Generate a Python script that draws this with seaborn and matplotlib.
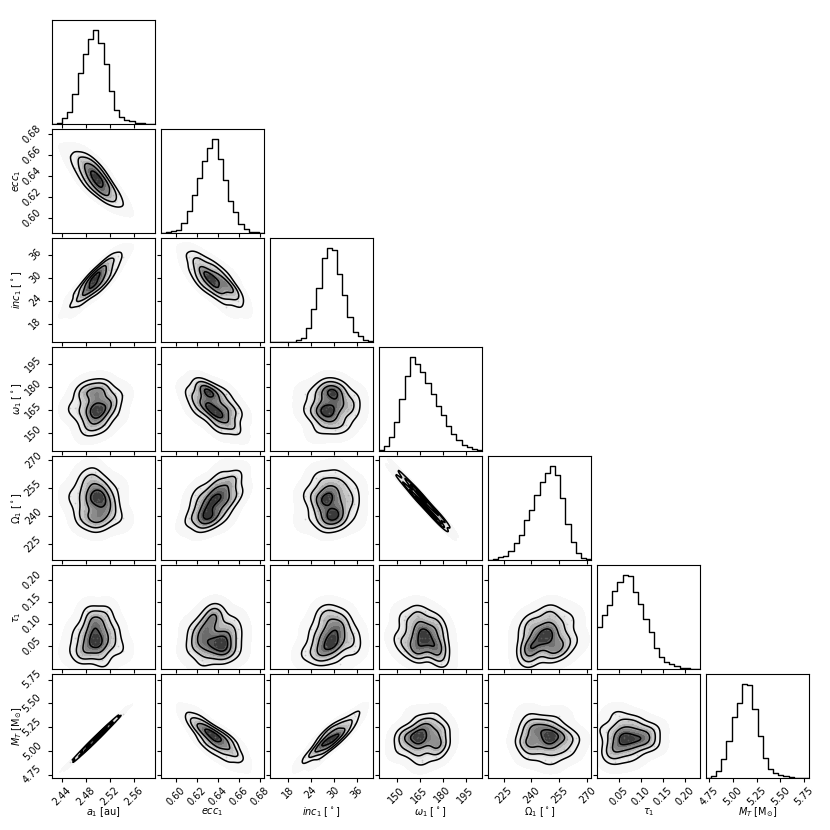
import matplotlib
matplotlib.use("Agg")
import matplotlib.pyplot as plt
from matplotlib.colors import LinearSegmentedColormap
import numpy as np
import pandas as pd
import seaborn as sns

# Representative posterior samples
a1 = [2.453,2.461,2.466,2.469,2.472,2.474,2.476,2.478,2.479,2.481,2.482,2.484,2.485,2.486,2.487,2.488,2.489,2.490,2.491,2.492,2.494,2.495,2.495,2.496,2.498,2.499,2.499,2.500,2.502,2.503,2.504,2.505,2.506,2.507,2.508,2.509,2.510,2.512,2.513,2.515,2.516,2.518,2.520,2.522,2.525,2.528,2.533,2.541]
ecc1 = [.659,.648,.659,.648,.654,.636,.648,.658,.638,.649,.640,.652,.628,.643,.649,.637,.656,.631,.643,.638,.650,.626,.643,.635,.637,.647,.630,.642,.626,.637,.632,.647,.625,.637,.619,.633,.626,.639,.626,.635,.618,.629,.620,.629,.622,.615,.623,.613]
inc1 = [22.6,26.1,24.0,22.5,26.9,25.8,25.9,25.4,28.8,28.2,26.7,27.0,29.7,25.5,28.4,28.9,27.1,31.0,29.2,28.0,31.1,27.7,30.4,27.5,30.9,28.0,31.2,26.3,31.2,30.6,29.7,29.8,28.3,33.2,30.6,33.4,29.1,32.4,31.7,28.8,33.8,32.0,35.3,30.8,34.6,32.4,35.7,35.4]
omega1 = [166.2,166.3,163.3,175.6,159.9,176.4,175.3,150.9,176.6,154.6,168.5,165.0,180.3,162.7,166.9,163.2,154.8,176.2,158.9,176.1,156.4,180.0,152.2,173.8,164.0,165.5,171.1,163.4,167.8,175.8,164.2,159.2,180.9,155.2,178.3,164.5,176.4,155.5,178.7,162.9,165.5,169.9,170.0,170.3,168.4,176.2,162.0,174.6]
Omega1 = [250.7,247.1,252.3,238.3,255.9,238.5,243.0,260.5,241.4,257.7,247.7,247.8,237.5,250.9,250.6,249.4,261.0,238.2,256.3,237.8,259.0,235.3,263.8,239.9,252.7,247.9,245.3,249.2,248.8,239.1,253.0,253.0,237.5,257.1,238.8,248.3,241.0,257.4,240.0,249.7,251.4,243.9,246.3,243.0,248.2,238.7,255.0,239.2]
tau1 = [.04,.07,.09,.03,.04,.03,.05,.07,.08,.04,.13,.07,.05,.03,.09,.12,.11,.10,.07,.05,.10,.08,.06,.11,.12,.05,.07,.03,.09,.06,.04,.08,.02,.06,.05,.10,.11,.12,.01,.13,.06,.09,.08,.05,.07,.09,.05,.04]
MT = [4.88,4.90,4.955,4.94,4.98,4.975,5.02,5.00,5.04,5.02,5.055,5.03,5.06,5.045,5.09,5.07,5.10,5.08,5.115,5.08,5.12,5.095,5.14,5.12,5.15,5.13,5.165,5.13,5.17,5.145,5.19,5.17,5.20,5.18,5.215,5.19,5.22,5.205,5.25,5.23,5.27,5.25,5.285,5.27,5.31,5.305,5.37,5.39]

# Marginal histogram heights, 20 bins per parameter
hist_a1 = [1,4,17,37,90,152,212,255,284,244,180,98,42,22,12,8,4,2,1,1]
hist_ecc1 = [1,2,5,9,31,66,113,166,218,257,284,222,159,97,64,27,11,4,2,1]
hist_inc1 = [0,0,0,1,1,6,11,41,99,164,254,284,277,206,141,76,29,19,7,2]
hist_omega1 = [3,16,41,88,155,225,284,263,239,205,171,136,107,74,51,34,17,11,6,3]
hist_Omega1 = [1,4,8,12,28,52,75,121,150,196,233,261,283,255,187,109,55,20,6,2]
hist_tau1 = [125,163,191,234,261,283,279,232,196,151,110,64,36,20,14,10,4,2,1,1]
hist_MT = [0,6,20,57,109,181,223,282,278,206,124,61,27,16,10,6,3,1,0,0]

names = ["a1", "ecc1", "inc1", "omega1", "Omega1", "tau1", "MT"]
labels = [r"$a_{1}$ [au]", r"$ecc_{1}$", r"$inc_{1}$ [$^\circ$]", r"$\omega_{1}$ [$^\circ$]",
          r"$\Omega_{1}$ [$^\circ$]", r"$\tau_{1}$", r"$M_{T}$ [M$_{\odot}$]"]
limits = [(2.4228, 2.5956), (.5857, .6844), (13.3, 40.35), (138.3, 205.8),
          (216.5, 272.1), (-.001, .234), (4.715, 5.806)]
ticks = [[2.44, 2.48, 2.52, 2.56], [.60, .62, .64, .66, .68], [18, 24, 30, 36],
         [150, 165, 180, 195], [225, 240, 255, 270], [.05, .10, .15, .20],
         [4.75, 5.00, 5.25, 5.50, 5.75]]
ticktext = [["2.44", "2.48", "2.52", "2.56"], ["0.60", "0.62", "0.64", "0.66", "0.68"],
            ["18", "24", "30", "36"], ["150", "165", "180", "195"],
            ["225", "240", "255", "270"], ["0.05", "0.10", "0.15", "0.20"],
            ["4.75", "5.00", "5.25", "5.50", "5.75"]]
hists = [hist_a1, hist_ecc1, hist_inc1, hist_omega1, hist_Omega1, hist_tau1, hist_MT]

samples = pd.DataFrame(dict(a1=a1, ecc1=ecc1, inc1=inc1, omega1=omega1, Omega1=Omega1, tau1=tau1, MT=MT))

shade = LinearSegmentedColormap.from_list(
    "shade", [(0, "#fcfcfc"), (.3, "#ececec"), (.55, "#c4c4c4"), (.8, "#828282"), (1, "#303030")])
fill_levels = [.012, .135, .2, .27, .325, .4, .5, .607, .7, .8, .882, .95, 1.0]
line_levels = [.135, .325, .607, .882]

S = 830.0
fig = plt.figure(figsize=(8.3, 8.3), dpi=100)
x0, y0, step, w = 51.7, 20.3, 109.0, 103.6
FS = 7

for r in range(7):
    for c in range(r + 1):
        ax = fig.add_axes([(x0 + c * step) / S, 1 - (y0 + r * step + w) / S, w / S, w / S])
        if r == c:
            sns.histplot(x=np.linspace(limits[c][0], limits[c][1], 41)[1::2], weights=hists[c],
                         bins=20, binrange=limits[c], element="step",
                         fill=False, color="k", linewidth=1.0, ax=ax)
            ax.set_ylim(0, 1.1 * max(hists[c]))
            ax.set_yticks([])
        else:
            xn, yn = names[c], names[r]
            sns.kdeplot(data=samples, x=xn, y=yn, fill=True, levels=fill_levels, cmap=shade,
                        bw_adjust=1.05, gridsize=120, ax=ax)
            sns.kdeplot(data=samples, x=xn, y=yn, levels=line_levels, color="k", linewidths=1.1,
                        bw_adjust=1.05, gridsize=120, ax=ax)
            sns.scatterplot(data=samples, x=xn, y=yn, s=1.5, color="#888888", alpha=.35,
                            linewidth=0, ax=ax)
            ax.set_ylim(*limits[r])
            ax.set_yticks(ticks[r])
            if c == 0:
                ax.set_yticklabels(ticktext[r], rotation=45, fontsize=FS, va="center")
            else:
                ax.set_yticklabels([])
        ax.set_xlim(*limits[c])
        ax.set_xticks(ticks[c])
        if r == 6:
            ax.set_xticklabels(ticktext[c], rotation=45, fontsize=FS, ha="center")
        else:
            ax.set_xticklabels([])
        ax.set_xlabel("")
        ax.set_ylabel("")
        ax.tick_params(length=3, width=.8)
        ax.tick_params(axis="x", pad=2)
        ax.tick_params(axis="y", pad=3)

for c in range(7):
    fig.text((x0 + c * step + w / 2) / S, 1 - 812 / S, labels[c], fontsize=FS, ha="center", va="center")
for r in range(1, 7):
    fig.text(17 / S, 1 - (y0 + r * step + w / 2) / S, labels[r], fontsize=FS, rotation=90, ha="center", va="center")

fig.savefig("out.png", dpi=100)
